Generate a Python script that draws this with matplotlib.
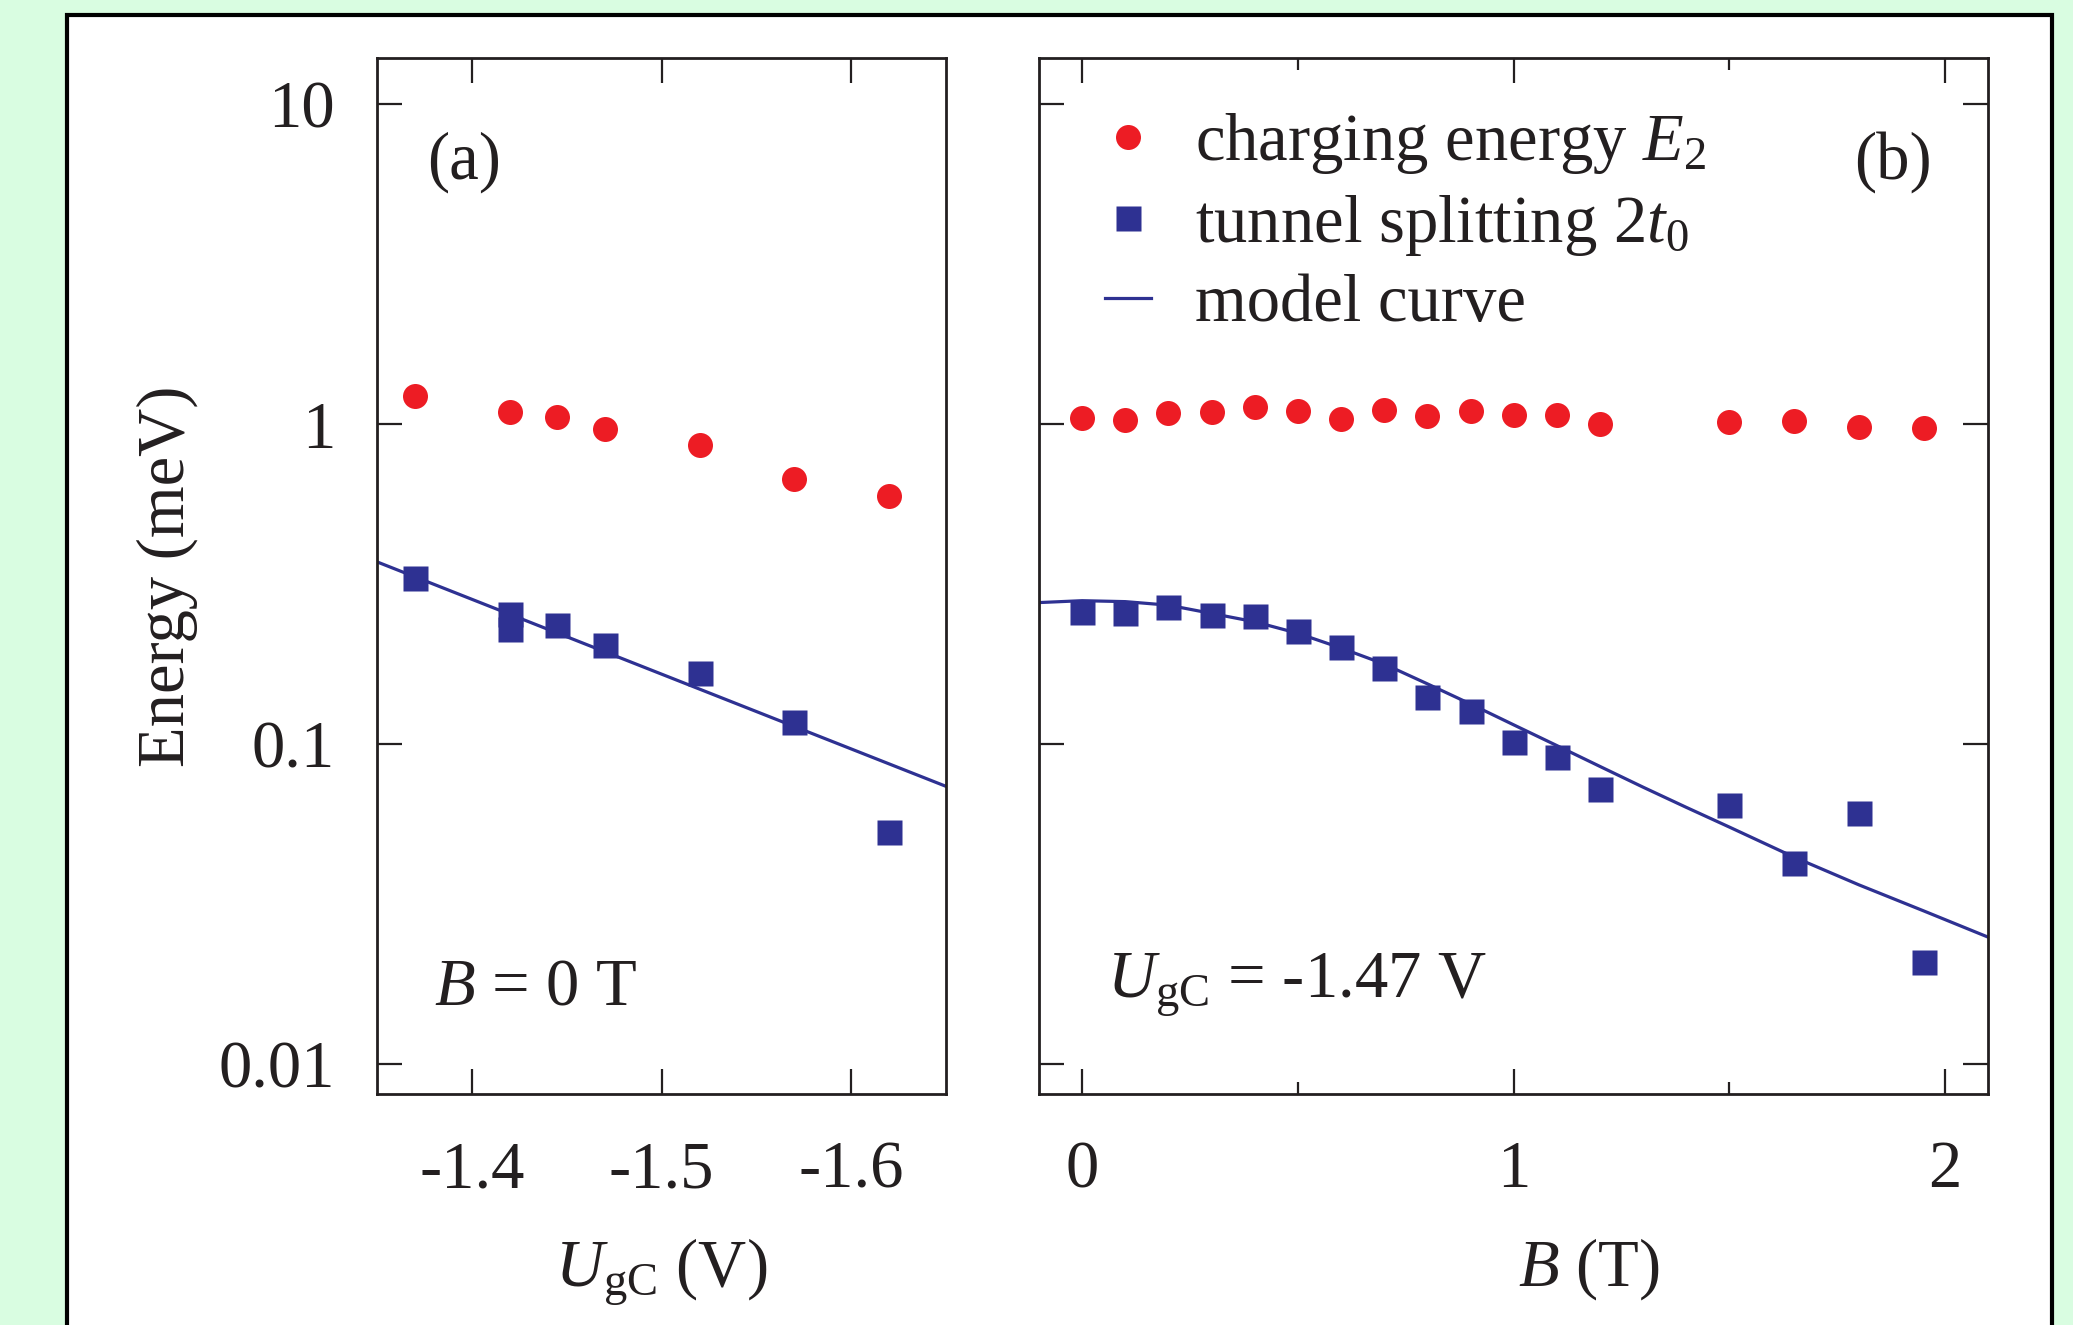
import numpy as np
import matplotlib
matplotlib.use("Agg")
from matplotlib import pyplot as plt
from matplotlib.lines import Line2D
from matplotlib.patches import Rectangle
from matplotlib.ticker import FixedLocator, NullLocator

# ---- data ----
# panel (a): gate voltage sweep at B = 0
ugc_charging = [-1.37, -1.42, -1.445, -1.47, -1.52, -1.57, -1.62]
e2_a = [1.224, 1.09, 1.055, 0.963, 0.86, 0.675, 0.596]
ugc_tunnel = [-1.37, -1.42, -1.42, -1.445, -1.47, -1.52, -1.57, -1.62]
t0_a = [0.3305, 0.254, 0.228, 0.236, 0.2045, 0.167, 0.1173, 0.0531]
model_a_ugc = [-1.35, -1.65]
model_a_e = [0.371, 0.0737]

# panel (b): magnetic field sweep at U_gC = -1.47 V
b_field = [0.0, 0.1, 0.2, 0.3, 0.4, 0.5, 0.6, 0.7, 0.8, 0.9, 1.0, 1.1, 1.2,
           1.5, 1.65, 1.8, 1.95]
e2_b = [1.046, 1.029, 1.080, 1.090, 1.128, 1.098, 1.034, 1.106, 1.059, 1.100,
        1.065, 1.067, 0.998, 1.012, 1.024, 0.981, 0.972]
t0_b = [0.259, 0.2561, 0.2675, 0.2524, 0.2506, 0.225, 0.2005, 0.1724, 0.1399,
        0.1265, 0.1012, 0.0908, 0.0722, 0.0643, 0.0424, 0.0607, 0.0209]
model_b_field = [-0.1, 0.0, 0.1, 0.2, 0.3, 0.4, 0.5, 0.6, 0.7, 0.8, 0.9, 1.0,
                 1.1, 1.2, 1.3, 1.4, 1.5, 1.65, 1.8, 1.95, 2.1]
model_b_e = [0.2767, 0.2805, 0.2786, 0.2716, 0.2559, 0.2410, 0.2218, 0.1995,
             0.1778, 0.1542, 0.1334, 0.1148, 0.0989, 0.0851, 0.0733, 0.0634,
             0.0550, 0.0443, 0.0363, 0.0301, 0.0249]

y_ticks = [0.01, 0.1, 1, 10]
y_ticklabels = ["0.01", "0.1", "1", "10"]
a_ticks = [-1.4, -1.5, -1.6]
a_ticklabels = ["-1.4", "-1.5", "-1.6"]
b_ticks = [0, 1, 2]
b_ticklabels = ["0", "1", "2"]

RED = "#ed1c24"
BLUE = "#2e3192"
INK = "#231f20"
BG = "#d9fde1"
FS = 48

plt.rcParams["font.family"] = "Liberation Serif"
plt.rcParams["mathtext.fontset"] = "custom"
plt.rcParams["mathtext.rm"] = "Liberation Serif"
plt.rcParams["mathtext.it"] = "Liberation Serif:italic"
plt.rcParams["axes.unicode_minus"] = False

W, H = 2073, 1325
fig = plt.figure(figsize=(W / 100, H / 100), dpi=100, facecolor=BG)

# white panel with black frame (runs off the bottom edge)
fig.patches.append(Rectangle((67 / W, -0.05), (2052 - 67) / W, 1.05 - 15 / H,
                             transform=fig.transFigure, facecolor="white",
                             edgecolor="black", lw=3, zorder=-10))

bot = 1 - 1094.3 / H
top = 1 - 58.3 / H
ax_a = fig.add_axes([376.9 / W, bot, (946.2 - 376.9) / W, top - bot])
ax_b = fig.add_axes([1039 / W, bot, (1988.3 - 1039) / W, top - bot])

for ax in (ax_a, ax_b):
    ax.set_facecolor("none")
    ax.set_yscale("log")
    ax.set_ylim(0.00804, 13.9)
    ax.yaxis.set_major_locator(FixedLocator(y_ticks))
    ax.yaxis.set_minor_locator(NullLocator())
    for s in ax.spines.values():
        s.set_linewidth(2.0)
        s.set_color(INK)
    ax.tick_params(which="major", direction="in", length=18, width=1.6,
                   color=INK, labelcolor=INK, labelsize=FS, pad=33)
    ax.tick_params(which="minor", direction="in", length=8.5, width=1.6,
                   color=INK)
    ax.tick_params(axis="y", pad=30)

# ---- panel (a) ----
ax_a.plot(model_a_ugc, model_a_e, color=BLUE, lw=2.3, zorder=2)
ax_a.plot(ugc_charging, e2_a, "o", ms=18, color=RED, mec="none", zorder=3)
ax_a.plot(ugc_tunnel, t0_a, "s", ms=18, color=BLUE, mec="none", zorder=3)
ax_a.set_xlim(-1.35, -1.65)
ax_a.xaxis.set_major_locator(FixedLocator(a_ticks))
ax_a.set_xticklabels(a_ticklabels)
ax_a.set_yticklabels(y_ticklabels)
ax_a.tick_params(axis="x", top=True)
ax_a.tick_params(axis="y", right=False)
ax_a.set_xlabel(r"$U_{\rm gC}$ (V)", fontsize=FS, color=INK)
ax_a.xaxis.set_label_coords(0.5, -0.137)
ax_a.set_ylabel("Energy (meV)", fontsize=FS, color=INK)
ax_a.yaxis.set_label_coords(-0.314, 0.5)
ax_a.text(0.0875, 0.90, "(a)", transform=ax_a.transAxes, fontsize=FS,
          color=INK, va="center", ha="left")
ax_a.text(0.1, 0.087, r"$B$ = 0 T", transform=ax_a.transAxes, fontsize=FS,
          color=INK, va="baseline", ha="left")

# ---- panel (b) ----
ax_b.plot(model_b_field, model_b_e, color=BLUE, lw=2.3, zorder=2)
ax_b.plot(b_field, e2_b, "o", ms=18, color=RED, mec="none", zorder=3)
ax_b.plot(b_field, t0_b, "s", ms=18, color=BLUE, mec="none", zorder=3)
ax_b.set_xlim(-0.1, 2.1)
ax_b.xaxis.set_major_locator(FixedLocator(b_ticks))
ax_b.xaxis.set_minor_locator(FixedLocator([0.5, 1.5]))
ax_b.set_xticklabels(b_ticklabels)
ax_b.tick_params(axis="x", which="both", top=True)
ax_b.tick_params(axis="y", right=True, labelleft=False)
ax_b.set_xlabel(r"$B$ (T)", fontsize=FS, color=INK)
ax_b.xaxis.set_label_coords(0.579, -0.137)
ax_b.text(0.9404, 0.90, "(b)", transform=ax_b.transAxes, fontsize=FS,
          color=INK, va="center", ha="right")
ax_b.text(0.0715, 0.093, r"$U_{\rm gC}$ = -1.47 V", transform=ax_b.transAxes,
          fontsize=FS, color=INK, va="baseline", ha="left")

handles = [
    Line2D([], [], ls="none", marker="o", ms=18, color=RED, mec="none"),
    Line2D([], [], ls="none", marker="s", ms=18, color=BLUE, mec="none"),
    Line2D([], [], color=BLUE, lw=2.3),
]
labels = [r"charging energy $E_2$", r"tunnel splitting $2t_0$", "model curve"]
leg = ax_b.legend(handles, labels, loc="upper left",
                  bbox_to_anchor=(0.0693, 0.949), frameon=False, fontsize=FS,
                  borderpad=0, borderaxespad=0, handlelength=0.7,
                  handletextpad=0.65, labelspacing=0.25, numpoints=1)
for t in leg.get_texts():
    t.set_color(INK)

fig.savefig("out.png", dpi=100, facecolor=BG)
